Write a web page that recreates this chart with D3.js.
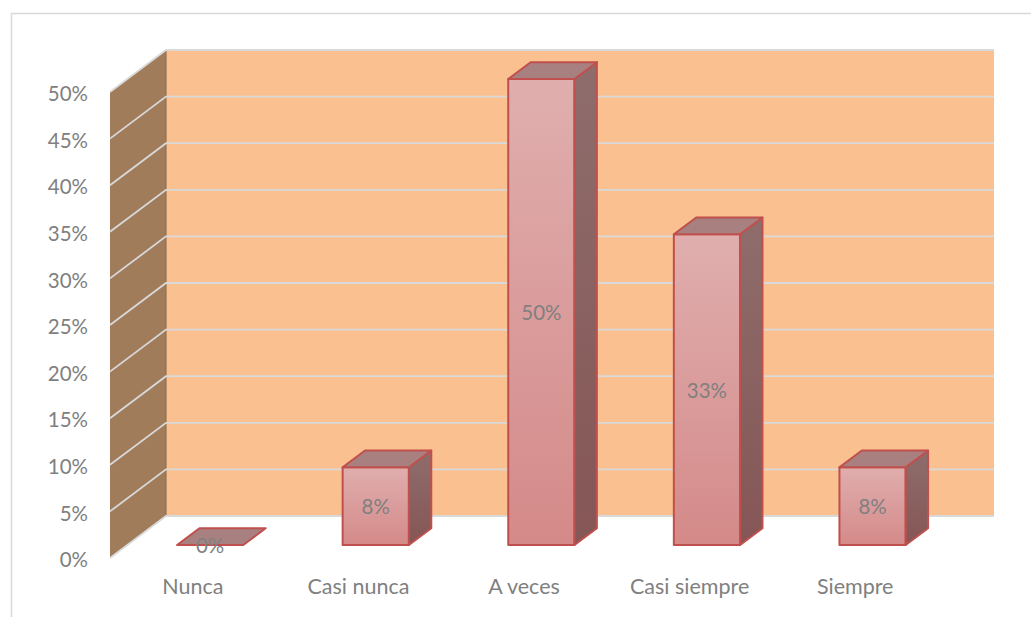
<!DOCTYPE html>
<html>
<head>
<meta charset="utf-8">
<script src="https://cdn.jsdelivr.net/npm/d3@7"></script>
<style>
  html, body { margin: 0; padding: 0; background: #fff; }
  svg { display: block; }
  text { font-family: Lato, "Open Sans", sans-serif; fill: #808080; }
</style>
</head>
<body>
<svg id="chart" width="1031" height="617"></svg>
<script>
// Survey answers (share of respondents)
const categories = ["Nunca", "Casi nunca", "A veces", "Casi siempre", "Siempre"];
const values = [0, 1 / 12, 6 / 12, 4 / 12, 1 / 12];
const tickValues = [0, 0.05, 0.10, 0.15, 0.20, 0.25, 0.30, 0.35, 0.40, 0.45, 0.50];

const svg = d3.select("#chart");
const fmt = d3.format(".0%");

// Front plane of the 3D box; depth is an oblique offset towards the back wall
const x = d3.scaleBand().domain(categories).range([110, 938]).paddingInner(0.6).paddingOuter(0.3);
const y = d3.scaleLinear().domain([0, 0.5]).range([558, 92]);
const depth = { dx: 56, dy: -42 };
const P = (px, py, d) => [px + d * depth.dx, py + d * depth.dy];
const barFront = 0.31, barBack = 0.71;

// Chart frame
svg.append("rect").attr("x", 11.5).attr("y", 13.5).attr("width", 1040).attr("height", 640)
  .attr("fill", "#fff").attr("stroke", "#d9d9d9").attr("stroke-width", 1.5);

const defs = svg.append("defs");
const gFront = defs.append("linearGradient").attr("id", "gFront").attr("x1", 0).attr("y1", 0).attr("x2", 0).attr("y2", 1);
gFront.append("stop").attr("offset", "0%").attr("stop-color", "#e0aeae");
gFront.append("stop").attr("offset", "100%").attr("stop-color", "#d48a89");
const gSide = defs.append("linearGradient").attr("id", "gSide").attr("x1", 0).attr("y1", 0).attr("x2", 0).attr("y2", 1);
gSide.append("stop").attr("offset", "0%").attr("stop-color", "#8e6d6c");
gSide.append("stop").attr("offset", "100%").attr("stop-color", "#855655");

const [x0, x1] = x.range();
const line = d3.line();

// Back wall
const bw0 = P(x0, y(0.5), 1), bw1 = P(x1, y(0), 1);
svg.append("rect").attr("x", bw0[0]).attr("y", bw0[1]).attr("width", bw1[0] - bw0[0]).attr("height", bw1[1] - bw0[1])
  .attr("fill", "#fac08f");

// Side wall
svg.append("path")
  .attr("d", line([[x0, y(0.5)], P(x0, y(0.5), 1), P(x0, y(0), 1), [x0, y(0)]]) + "Z")
  .attr("fill", "#a07c5b");
svg.append("path").attr("d", line([P(x0, y(0.5), 1), P(x0, y(0), 1)]))
  .attr("stroke", "#94714f").attr("stroke-width", 1.2);

// Gridlines on both walls
const grid = svg.append("g").attr("fill", "none").attr("stroke", "#d9d9d9").attr("stroke-width", 1.8);
tickValues.forEach(v => {
  grid.append("path").attr("d", line([[x0, y(v)], P(x0, y(v), 1), P(x1, y(v), 1)]));
});

// Value axis labels
svg.append("g").selectAll("text").data(tickValues).join("text")
  .attr("x", 88).attr("y", d => y(d) + 4)
  .attr("text-anchor", "end").attr("dominant-baseline", "middle")
  .attr("font-size", 20.5).text(d => fmt(d));

// Category labels
svg.append("g").selectAll("text").data(categories).join("text")
  .attr("x", d => x(d) + x.bandwidth() / 2).attr("y", 589)
  .attr("text-anchor", "middle").attr("dominant-baseline", "middle")
  .attr("font-size", 21.5).text(d => d);

// Columns
const bars = svg.append("g").selectAll("g").data(categories.map((c, i) => ({ c, v: values[i] }))).join("g");
bars.each(function (d) {
  const g = d3.select(this);
  const l = x(d.c), r = l + x.bandwidth();
  const yt = y(d.v), yb = y(0);
  const fl = P(l, yt, barFront), fr = P(r, yt, barFront);
  const bl = P(l, yt, barBack), br = P(r, yt, barBack);
  const frb = P(r, yb, barFront), flb = P(l, yb, barFront);
  const brb = P(r, yb, barBack);
  const face = (pts, fill) => g.append("path").attr("d", line(pts) + "Z").attr("fill", fill)
    .attr("stroke", "#c0504d").attr("stroke-width", 2).attr("stroke-linejoin", "round");
  if (d.v > 0) {
    face([fl, fr, frb, flb], "url(#gFront)");
    face([fr, br, brb, frb], "url(#gSide)");
  }
  face([fl, fr, br, bl], "#a88080");
  g.append("text")
    .attr("x", (fl[0] + fr[0]) / 2).attr("y", (fl[1] + flb[1]) / 2 + 3)
    .attr("text-anchor", "middle").attr("dominant-baseline", "middle")
    .attr("font-size", 20.5).text(fmt(d.v));
});
</script>
</body>
</html>
